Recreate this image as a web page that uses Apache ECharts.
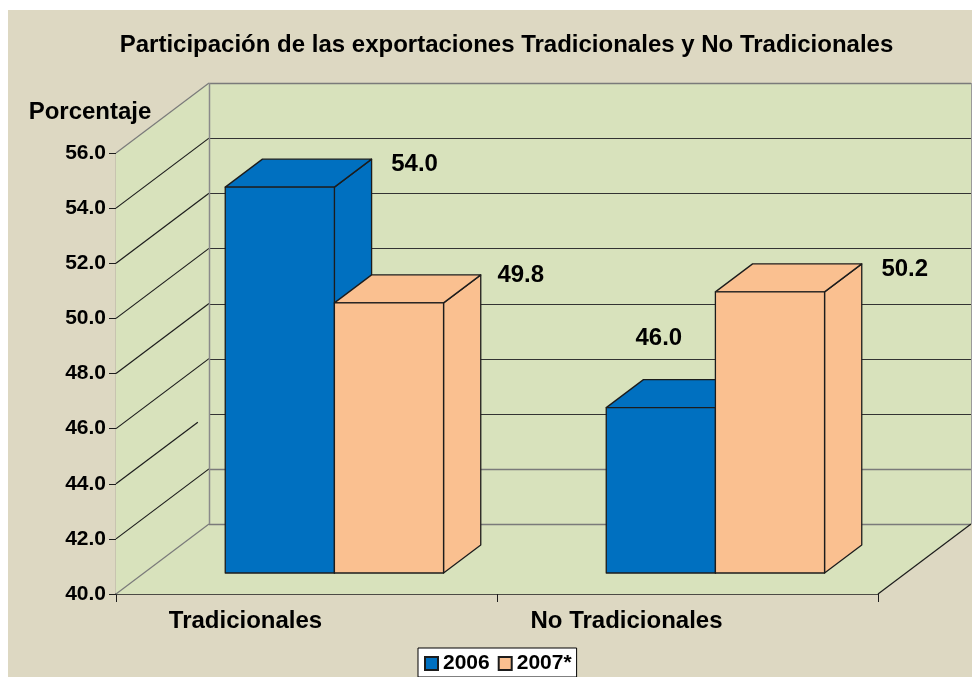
<!DOCTYPE html>
<html>
<head>
<meta charset="utf-8">
<style>html,body{margin:0;padding:0;background:#fff}#c{width:972px;height:677px}</style>
<script src="https://cdn.jsdelivr.net/npm/echarts@6/dist/echarts.min.js"></script>
</head>
<body>
<div id="c"></div>
<script>
var categories = ['Tradicionales', 'No Tradicionales'];
var values2006 = [54.0, 46.0];
var values2007 = [49.8, 50.2];
var yTicks = [40, 42, 44, 46, 48, 50, 52, 54, 56];

var FONT = '"Liberation Sans", Arial, sans-serif';
var DX = 93, DY = -70;           // full depth of the 3D box
var FRONT = 0.3, BAR_DEPTH = 0.4; // bar placement along the depth
var BAR_W = 0.2865;              // each bar as a share of the category band
var INK = '#1c1c1c', WALL_LINE = '#7a7a7a';
var labelShift2006 = [[43, 5.5], [-2, -41.5]];   // label nudge from bar's back top corner / centre
var labelShift2007 = [[40, 0.5], [43, 5.5]];

var chart = echarts.init(document.getElementById('c'), null, {renderer: 'canvas'});

function crisp(v) { return Math.round(v) + 0.5; }

function renderWalls(params, api) {
  var x0 = api.coord([0, 40])[0] - api.size([1, 0])[0] / 2;
  var x1 = x0 + api.size([1, 0])[0] * categories.length;
  var yb = api.coord([0, 40])[1], yt = api.coord([0, 56])[1];
  var fill = {fill: '#D8E2BC', stroke: null};
  var kids = [
    {type: 'polygon', shape: {points: [[x0 + DX, yb + DY], [x1 + DX, yb + DY], [x1 + DX, yt + DY], [x0 + DX, yt + DY]]}, style: fill},
    {type: 'polygon', shape: {points: [[x0, yb], [x0 + DX, yb + DY], [x0 + DX, yt + DY], [x0, yt]]}, style: fill},
    {type: 'polygon', shape: {points: [[x0, yb], [x1, yb], [x1 + DX, yb + DY], [x0 + DX, yb + DY]]}, style: fill}
  ];
  yTicks.forEach(function (t) {
    var y = api.coord([0, t])[1];
    var grey = (t === 40 || t === 42 || t === 56);
    var stop = t === 44 ? 0.88 : 1;
    kids.push({type: 'line', shape: {x1: x0, y1: y, x2: x0 + DX * stop, y2: y + DY * stop},
      style: {stroke: grey && t !== 42 ? WALL_LINE : INK, lineWidth: 1.2}});
    kids.push({type: 'line', shape: {x1: x0 + DX, y1: crisp(y + DY), x2: x1 + DX, y2: crisp(y + DY)},
      style: {stroke: grey ? WALL_LINE : '#333', lineWidth: grey ? 1.5 : 1}});
  });
  kids.push({type: 'line', shape: {x1: crisp(x0 + DX), y1: yb + DY, x2: crisp(x0 + DX), y2: yt + DY}, style: {stroke: '#8a8a8a', lineWidth: 1.5}});
  kids.push({type: 'line', shape: {x1: x1, y1: yb, x2: x1 + DX, y2: yb + DY}, style: {stroke: INK, lineWidth: 1.2}});
  kids.push({type: 'line', shape: {x1: crisp(x1 + DX), y1: yb + DY, x2: crisp(x1 + DX), y2: yt + DY}, style: {stroke: '#9a9a9a', lineWidth: 1}});
  return {type: 'group', children: kids};
}

function barRenderer(color, side, shifts) {
  return function (params, api) {
    var i = api.value(0), v = api.value(1);
    var band = api.size([1, 0])[0], w = band * BAR_W;
    var cx = api.coord([i, v])[0] + DX * FRONT;
    var xl = side === 0 ? cx - w : cx, xr = xl + w;
    var top = api.coord([i, v])[1] + DY * FRONT;
    var bot = api.coord([i, 40])[1] + DY * FRONT;
    var dx = DX * BAR_DEPTH, dy = DY * BAR_DEPTH;
    var st = {fill: color, stroke: INK, lineWidth: 1.3, lineJoin: 'round'};
    var s = shifts[params.dataIndex];
    var above = s[1] < -10;
    return {type: 'group', children: [
      {type: 'polygon', shape: {points: [[xr, bot], [xr + dx, bot + dy], [xr + dx, top + dy], [xr, top]]}, style: st},
      {type: 'polygon', shape: {points: [[xl, top], [xr, top], [xr + dx, top + dy], [xl + dx, top + dy]]}, style: st},
      {type: 'rect', shape: {x: xl, y: top, width: w, height: bot - top}, style: st},
      {type: 'text', x: above ? (xl + xr) / 2 + s[0] : xr + dx + s[0], y: top + dy + s[1],
        style: {text: v.toFixed(1), font: 'bold 24px ' + FONT, fill: '#000', align: 'center', verticalAlign: 'middle'}}
    ]};
  };
}

function rows(vals) { return vals.map(function (v, i) { return [i, v]; }); }

chart.setOption({
  backgroundColor: '#ffffff',
  animation: false,
  graphic: [{type: 'rect', z: -1, shape: {x: 8, y: 10, width: 964, height: 667}, style: {fill: '#DDD8C2'}}],
  title: {
    text: 'Participación de las exportaciones Tradicionales y No Tradicionales',
    left: 501.5, top: 28, textAlign: 'center',
    textStyle: {fontFamily: FONT, fontWeight: 'bold', fontSize: 24, color: '#000'}
  },
  legend: {
    left: 418, top: 648, orient: 'horizontal', selectedMode: false,
    data: ['2006', '2007*'], icon: 'rect', itemWidth: 13, itemHeight: 13, itemGap: 8,
    padding: [5, 5, 3, 6], backgroundColor: '#fff', borderColor: '#000', borderWidth: 1,
    textStyle: {fontFamily: FONT, fontWeight: 'bold', fontSize: 21, color: '#000'}
  },
  grid: {left: 116, top: 153, width: 762, height: 441, containLabel: false},
  xAxis: {
    type: 'category', data: categories, boundaryGap: true,
    axisLine: {lineStyle: {color: INK, width: 1.5}},
    axisTick: {show: true, length: 8, alignWithLabel: false, lineStyle: {color: INK}},
    axisLabel: {margin: 15, fontFamily: FONT, fontWeight: 'bold', fontSize: 24, color: '#000', padding: [0, 122, 0, 0]},
    splitLine: {show: false}
  },
  yAxis: {
    type: 'value', min: 40, max: 56, interval: 2,
    name: 'Porcentaje', nameLocation: 'end', nameGap: 29,
    nameTextStyle: {fontFamily: FONT, fontWeight: 'bold', fontSize: 24, color: '#000', align: 'center', padding: [0, 52, 0, 0]},
    axisLine: {show: true, lineStyle: {color: INK, width: 1.2}},
    axisTick: {show: true, length: 7, lineStyle: {color: INK}},
    axisLabel: {margin: 10, fontFamily: FONT, fontWeight: 'bold', fontSize: 21, color: '#000', padding: [4, 0, 0, 0],
      formatter: function (v) { return v.toFixed(1); }},
    splitLine: {show: false}
  },
  series: [
    {type: 'custom', name: 'walls', z: 1, silent: true, data: [[0, 40]], encode: {x: 0, y: 1}, renderItem: renderWalls, clip: false},
    {type: 'custom', name: '2006', z: 3, data: rows(values2006), encode: {x: 0, y: 1}, clip: false,
      itemStyle: {color: '#0070C0', borderColor: INK, borderWidth: 1},
      renderItem: barRenderer('#0070C0', 0, labelShift2006)},
    {type: 'custom', name: '2007*', z: 4, data: rows(values2007), encode: {x: 0, y: 1}, clip: false,
      itemStyle: {color: '#FAC090', borderColor: INK, borderWidth: 1},
      renderItem: barRenderer('#FAC090', 1, labelShift2007)}
  ]
});
</script>
</body>
</html>
